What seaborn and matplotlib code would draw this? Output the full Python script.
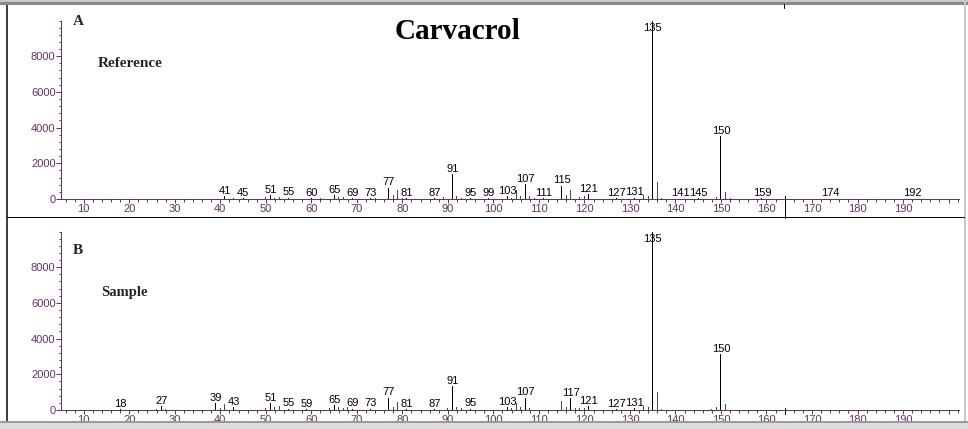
import matplotlib
matplotlib.use("Agg")
import matplotlib.pyplot as plt
from matplotlib.patches import Rectangle
from matplotlib.lines import Line2D
from matplotlib.ticker import MultipleLocator, FixedLocator, FuncFormatter
import seaborn as sns
import pandas as pd

# ---------------- data ----------------
title = "Carvacrol"

ref_mz = [41, 43, 45, 50, 51, 52, 53, 55, 60, 62, 63, 65, 66, 67, 69, 73, 74,
          77, 78, 79, 80, 81, 87, 89, 91, 92, 93, 95, 99, 103, 104, 105, 106,
          107, 108, 109, 111, 115, 116, 117, 119, 120, 121, 127, 131, 133, 134,
          135, 136, 137, 141, 145, 149, 150, 151, 152, 159, 174, 192]
ref_int = [150, 80, 60, 90, 210, 80, 110, 70, 50, 80, 110, 200, 90, 110, 60, 60, 40,
           640, 220, 490, 60, 60, 50, 110, 1380, 160, 70, 60, 40, 170, 80, 490, 150,
           820, 150, 80, 60, 750, 220, 490, 90, 150, 260, 50, 80, 200, 150,
           10000, 950, 60, 30, 30, 90, 3530, 370, 80, 30, 20, 20]
ref_labels = [41, 45, 51, 55, 60, 65, 69, 73, 77, 81, 87, 91, 95, 99, 103, 107,
              111, 115, 121, 127, 131, 135, 141, 145, 150, 159, 174, 192]

smp_mz = [18, 26, 27, 28, 39, 40, 41, 43, 50, 51, 52, 53, 55, 59, 63, 64, 65, 66,
          67, 68, 69, 73, 77, 78, 79, 81, 87, 90, 91, 92, 93, 95, 103, 104, 105,
          106, 107, 108, 115, 116, 117, 118, 119, 120, 121, 127, 131, 133, 134,
          135, 136, 137, 148, 149, 150, 151]
smp_int = [50, 60, 230, 70, 370, 90, 340, 150, 90, 370, 150, 200, 80, 60, 90, 100, 280, 150,
           120, 150, 70, 70, 690, 160, 430, 60, 60, 100, 1340, 160, 100, 80, 150, 100, 410,
           150, 690, 100, 500, 160, 650, 100, 100, 100, 230, 60, 100, 200, 150,
           10000, 1030, 80, 80, 170, 3120, 340]
smp_labels = [18, 27, 39, 43, 51, 55, 59, 65, 69, 73, 77, 81, 87, 91, 95, 103, 107,
              117, 121, 127, 131, 135, 150]

panel_letters = ["A", "B"]
panel_names = ["Reference", "Sample"]
x_major_labels = [10, 20, 30, 40, 50, 60, 70, 80, 90, 100, 110, 120, 130, 140, 150, 160, 170, 180, 190]
y_major_ticks = [0, 2000, 4000, 6000, 8000]

# ---------------- style ----------------
sns.set_theme(style="white")
plt.rcParams["font.family"] = ["Liberation Sans", "DejaVu Sans"]

PURPLE = "#663366"
W, H = 968, 429
fig = plt.figure(figsize=(W / 100, H / 100), dpi=100)
fig.patch.set_facecolor("white")


def rect(l, top, r, bottom):
    return [l / W, 1 - bottom / H, (r - l) / W, (bottom - top) / H]


def fx(x):
    return x / W


def fy(y):
    return 1 - y / H


axA = fig.add_axes(rect(61, 20.5, 959, 199))
axB = fig.add_axes(rect(61, 231.5, 959, 410))

px = 72 / 100  # one pixel in points
FS = 8

for ax, mz, inten, labs in [(axA, ref_mz, ref_int, ref_labels),
                            (axB, smp_mz, smp_int, smp_labels)]:
    df = pd.DataFrame({"mz": mz, "intensity": inten})
    df["lab"] = ["y" if m in labs else "n" for m in mz]
    sns.barplot(data=df, x="mz", y="intensity", hue="lab",
                palette={"y": "black", "n": "#4a4a4a"}, dodge=False,
                native_scale=True, width=0.21, saturation=1, errorbar=None,
                legend=False, linewidth=0, ax=ax)
    ax.set_xlim(5, 202.3)
    ax.set_ylim(0, 10000)
    ax.set_xlabel("")
    ax.set_ylabel("")
    ax.set_facecolor("none")
    for s in ["top", "right"]:
        ax.spines[s].set_visible(False)
    for s in ["left", "bottom"]:
        ax.spines[s].set_color(PURPLE)
        ax.spines[s].set_linewidth(1 * px)
    ax.xaxis.set_major_locator(MultipleLocator(10))
    ax.xaxis.set_minor_locator(MultipleLocator(2))
    ax.xaxis.set_major_formatter(FuncFormatter(
        lambda v, p: str(int(round(v))) if int(round(v)) in x_major_labels else ""))
    ax.yaxis.set_major_locator(FixedLocator(y_major_ticks))
    ax.yaxis.set_minor_locator(MultipleLocator(400))
    ax.yaxis.set_major_formatter(FuncFormatter(lambda v, p: str(int(v))))
    ax.tick_params(axis="x", which="major", direction="out", length=4 * px, width=1 * px,
                   color=PURPLE, labelcolor=PURPLE, labelsize=FS, pad=1.0,
                   bottom=True)
    ax.tick_params(axis="x", which="minor", direction="out", length=3 * px, width=1 * px,
                   color=PURPLE, bottom=True)
    ax.tick_params(axis="y", which="major", direction="out", length=5 * px, width=1 * px,
                   color=PURPLE, labelcolor=PURPLE, labelsize=FS, pad=0.3, left=True)
    ax.tick_params(axis="y", which="minor", direction="out", length=2 * px, width=1 * px,
                   color=PURPLE, left=True)
    ax.grid(False)
    for m, h in zip(mz, inten):
        if m in labs:
            ax.annotate(str(m), (m, min(h, 9300)), xytext=(0, 0.2),
                        textcoords="offset points", ha="center", va="bottom",
                        fontsize=FS, color="black", annotation_clip=False)

# cursor mark at m/z 164
axA.plot([164, 164], [-0.105, 0.018], color="black", lw=1 * px, clip_on=False,
         transform=axA.get_xaxis_transform())
axB.plot([164, 164], [-0.02, 0.014], color="black", lw=1 * px, clip_on=False,
         transform=axB.get_xaxis_transform())

# ---------------- texts ----------------
serif = ["Liberation Serif", "DejaVu Serif"]
fig.text(fx(457), fy(39.3), title, fontsize=21, fontweight="bold", family=serif,
         ha="center", va="baseline", color="black")
fig.text(fx(73), fy(25), panel_letters[0], fontsize=11, fontweight="bold", family=serif,
         ha="left", va="baseline")
fig.text(fx(98), fy(66.7), panel_names[0], fontsize=11, fontweight="bold", family=serif,
         ha="left", va="baseline")
fig.text(fx(73), fy(254.3), panel_letters[1], fontsize=11, fontweight="bold", family=serif,
         ha="left", va="baseline")
fig.text(fx(101), fy(296.3), panel_names[1], fontsize=10.5, fontweight="bold", family=serif,
         ha="left", va="baseline")

# ---------------- window frame ----------------
def frect(l, t, r, b, c, z=5):
    fig.add_artist(Rectangle((fx(l), fy(b)), (r - l) / W, (b - t) / H,
                             transform=fig.transFigure, facecolor=c, edgecolor="none",
                             zorder=z))


frect(0, 0, W, 2, "#c8c8c8")
frect(0, 2, W, 4.5, "#8a8a8a")
frect(5.5, 4.5, 7.5, 421, "#404040")
frect(963.5, 0, 966, 421, "#c8c8c8")
frect(0, 421, W, 423, "#9a9a9a")
frect(0, 423, W, H, "#dcdcdc")
fig.add_artist(Line2D([fx(7), fx(963.5)], [fy(217), fy(217)], color="black",
                      lw=1 * px, transform=fig.transFigure, zorder=6))
fig.add_artist(Line2D([fx(784), fx(784)], [fy(4), fy(7.5)], color="black",
                      lw=1 * px, transform=fig.transFigure, zorder=6))

fig.savefig("out.png", dpi=100, facecolor="white")
